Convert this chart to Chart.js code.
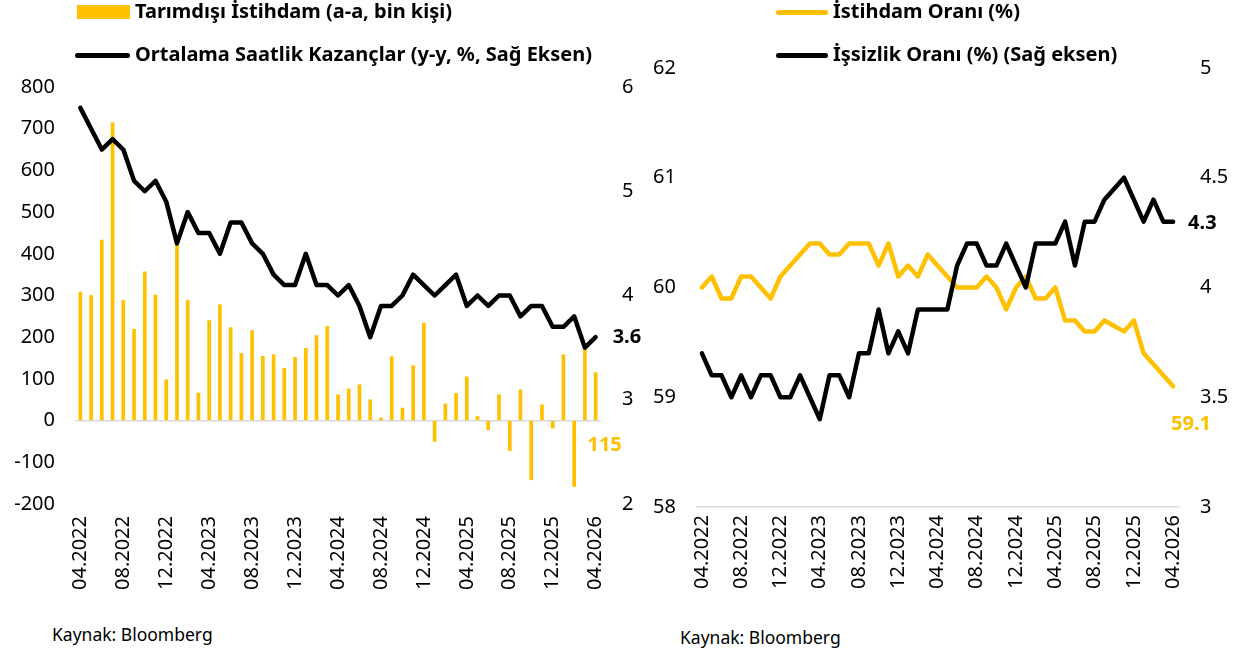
<!DOCTYPE html>
<html>
<head>
<meta charset="utf-8">
<script src="https://cdn.jsdelivr.net/npm/chart.js@4.4.1/dist/chart.umd.min.js"></script>
<style>
  body { margin: 0; background: #fff; width: 1243px; height: 652px; position: relative; overflow: hidden; font-family: "Noto Sans", "DejaVu Sans", sans-serif; }
  canvas { position: absolute; top: 0; }
  #leftChart { left: 0; }
  #rightChart { left: 645px; }
  .leg { position: absolute; font-weight: bold; font-size: 20px; color: #000; white-space: nowrap; line-height: 1; }
  .sw { position: absolute; }
  .src { position: absolute; font-size: 17.5px; color: #000; white-space: nowrap; }
</style>
</head>
<body>
<canvas id="leftChart" width="645" height="620"></canvas>
<canvas id="rightChart" width="598" height="620"></canvas>

<div class="sw" style="left:77px;top:5px;width:53px;height:14px;background:#FFC000"></div>
<div class="leg" style="left:135px;top:1px">Tarımdışı İstihdam (a-a, bin kişi)</div>
<div class="sw" style="left:75px;top:53px;width:55px;height:5px;border-radius:3px;background:#000"></div>
<div class="leg" style="left:135px;top:44px">Ortalama Saatlik Kazançlar (y-y, %, Sağ Eksen)</div>

<div class="sw" style="left:776px;top:10px;width:52px;height:5px;border-radius:3px;background:#FFC000"></div>
<div class="leg" style="left:833px;top:1px">İstihdam Oranı (%)</div>
<div class="sw" style="left:776px;top:53px;width:52px;height:5px;border-radius:3px;background:#000"></div>
<div class="leg" style="left:833px;top:44px">İşsizlik Oranı (%) (Sağ eksen)</div>

<div class="src" style="left:52px;top:622px">Kaynak: Bloomberg</div>
<div class="src" style="left:680px;top:625px">Kaynak: Bloomberg</div>

<script>
const months = [
  "04.2022", "05.2022", "06.2022", "07.2022", "08.2022", "09.2022", "10.2022", "11.2022", "12.2022",
  "01.2023", "02.2023", "03.2023", "04.2023", "05.2023", "06.2023", "07.2023", "08.2023", "09.2023", "10.2023", "11.2023", "12.2023",
  "01.2024", "02.2024", "03.2024", "04.2024", "05.2024", "06.2024", "07.2024", "08.2024", "09.2024", "10.2024", "11.2024", "12.2024",
  "01.2025", "02.2025", "03.2025", "04.2025", "05.2025", "06.2025", "07.2025", "08.2025", "09.2025", "10.2025", "11.2025", "12.2025",
  "01.2026", "02.2026", "03.2026", "04.2026",
];

// Tarımdışı istihdam, aylık değişim (bin kişi)
const payrolls = [
  308, 300, 433, 714, 288, 219, 357, 301, 98, 430,
  288, 66, 240, 278, 223, 161, 216, 154, 158, 125,
  152, 173, 204, 226, 62, 76, 86, 50, 6, 153,
  30, 132, 234, -50, 40, 65, 105, 10, -22, 62,
  -72, 74, -142, 38, -18, 158, -158, 178, 115,
];

// Ortalama saatlik kazançlar, y-y %
const earnings = [
  5.8, 5.6, 5.4, 5.5, 5.4, 5.1, 5.0, 5.1, 4.9, 4.5,
  4.8, 4.6, 4.6, 4.4, 4.7, 4.7, 4.5, 4.4, 4.2, 4.1,
  4.1, 4.4, 4.1, 4.1, 4.0, 4.1, 3.9, 3.6, 3.9, 3.9,
  4.0, 4.2, 4.1, 4.0, 4.1, 4.2, 3.9, 4.0, 3.9, 4.0,
  4.0, 3.8, 3.9, 3.9, 3.7, 3.7, 3.8, 3.5, 3.6,
];

// İstihdam oranı %
const employmentRate = [
  60.0, 60.1, 59.9, 59.9, 60.1, 60.1, 60.0, 59.9, 60.1, 60.2,
  60.3, 60.4, 60.4, 60.3, 60.3, 60.4, 60.4, 60.4, 60.2, 60.4,
  60.1, 60.2, 60.1, 60.3, 60.2, 60.1, 60.0, 60.0, 60.0, 60.1,
  60.0, 59.8, 60.0, 60.1, 59.9, 59.9, 60.0, 59.7, 59.7, 59.6,
  59.6, 59.7, 59.65, 59.6, 59.7, 59.4, 59.3, 59.2, 59.1,
];

// İşsizlik oranı %
const unemploymentRate = [
  3.7, 3.6, 3.6, 3.5, 3.6, 3.5, 3.6, 3.6, 3.5, 3.5,
  3.6, 3.5, 3.4, 3.6, 3.6, 3.5, 3.7, 3.7, 3.9, 3.7,
  3.8, 3.7, 3.9, 3.9, 3.9, 3.9, 4.1, 4.2, 4.2, 4.1,
  4.1, 4.2, 4.1, 4.0, 4.2, 4.2, 4.2, 4.3, 4.1, 4.3,
  4.3, 4.4, 4.45, 4.5, 4.4, 4.3, 4.4, 4.3, 4.3,
];

const YELLOW = "#FFC000";
const AXIS_GRAY = "#D9D9D9";
const FONT = "'Noto Sans', 'DejaVu Sans', sans-serif";

Chart.defaults.font.family = FONT;
Chart.defaults.font.size = 20;
Chart.defaults.color = "#000";
Chart.defaults.animation = false;

const everyFourth = function (val, i) {
  return i % 4 === 0 ? this.getLabelForValue(val) : "";
};
const plainNumber = (v) => String(v);

// last value labels next to the series
const endLabels = {
  id: "endLabels",
  afterDatasetsDraw(chart, args, opts) {
    const ctx = chart.ctx;
    ctx.save();
    ctx.font = "bold 20px " + FONT;
    ctx.textBaseline = "middle";
    opts.items.forEach((it) => {
      const meta = chart.getDatasetMeta(it.dataset);
      const el = meta.data[meta.data.length - 1];
      const data = chart.data.datasets[it.dataset].data;
      const text = it.format(data[data.length - 1]);
      let y = el.y;
      if (it.fromZero) y = chart.scales[it.fromZero].getPixelForValue(0);
      ctx.fillStyle = it.color;
      ctx.textAlign = it.align || "left";
      ctx.fillText(text, el.x + it.dx, y + it.dy);
    });
    ctx.restore();
  },
};

new Chart(document.getElementById("leftChart"), {
  type: "bar",
  data: {
    labels: months,
    datasets: [
      {
        type: "line",
        label: "Ortalama Saatlik Kazançlar (y-y, %, Sağ Eksen)",
        data: earnings,
        yAxisID: "y1",
        borderColor: "#000",
        borderWidth: 4.5,
        pointRadius: 0,
        tension: 0,
        borderJoinStyle: "round",
        borderCapStyle: "round",
        order: 0,
      },
      {
        label: "Tarımdışı İstihdam (a-a, bin kişi)",
        data: payrolls,
        yAxisID: "y",
        backgroundColor: YELLOW,
        barThickness: 3,
        order: 1,
      },
    ],
  },
  plugins: [endLabels],
  options: {
    responsive: false,
    layout: { padding: { top: 87, left: 0, right: 0, bottom: 0 } },
    plugins: {
      legend: { display: false },
      tooltip: { enabled: false },
      endLabels: {
        items: [
          { dataset: 0, format: (v) => v.toFixed(1), color: "#000", dx: 17, dy: 0 },
          { dataset: 1, format: (v) => String(v), color: YELLOW, dx: 9, dy: 25, align: "center", fromZero: "y" },
        ],
      },
    },
    scales: {
      x: {
        offset: true,
        grid: { display: false, drawTicks: false },
        border: { display: false },
        ticks: { autoSkip: false, minRotation: 90, maxRotation: 90, padding: 12, callback: everyFourth },
        afterFit: (s) => { s.height = 116; },
      },
      y: {
        position: "left",
        min: -200,
        max: 800,
        ticks: { stepSize: 100, padding: 20 },
        grid: {
          drawTicks: false,
          color: (c) => (c.tick && c.tick.value === 0 ? AXIS_GRAY : "rgba(0,0,0,0)"),
          lineWidth: 1.5,
        },
        border: { display: false },
        afterFit: (s) => { s.width = 75; },
      },
      y1: {
        position: "right",
        min: 2,
        max: 6,
        ticks: { stepSize: 1, padding: 21, callback: plainNumber },
        grid: { display: false, drawTicks: false },
        border: { display: false },
        afterFit: (s) => { s.width = 44; },
      },
    },
  },
});

new Chart(document.getElementById("rightChart"), {
  type: "line",
  data: {
    labels: months,
    datasets: [
      {
        label: "İşsizlik Oranı (%) (Sağ eksen)",
        data: unemploymentRate,
        yAxisID: "y1",
        borderColor: "#000",
        borderWidth: 4.5,
        pointRadius: 0,
        tension: 0,
        borderJoinStyle: "round",
        borderCapStyle: "round",
      },
      {
        label: "İstihdam Oranı (%)",
        data: employmentRate,
        yAxisID: "y",
        borderColor: YELLOW,
        borderWidth: 4.5,
        pointRadius: 0,
        tension: 0,
        borderJoinStyle: "round",
        borderCapStyle: "round",
      },
    ],
  },
  plugins: [endLabels],
  options: {
    responsive: false,
    layout: { padding: { top: 68, left: 0, right: 0, bottom: 0 } },
    plugins: {
      legend: { display: false },
      tooltip: { enabled: false },
      endLabels: {
        items: [
          { dataset: 0, format: (v) => v.toFixed(1), color: "#000", dx: 15, dy: 2 },
          { dataset: 1, format: (v) => v.toFixed(1), color: YELLOW, dx: 18, dy: 38, align: "center" },
        ],
      },
    },
    scales: {
      x: {
        offset: true,
        grid: { display: false, drawTicks: false },
        border: { display: true, color: AXIS_GRAY, width: 1.5 },
        ticks: { autoSkip: false, minRotation: 90, maxRotation: 90, padding: 8, callback: everyFourth },
        afterFit: (s) => { s.height = 113; },
      },
      y: {
        position: "left",
        min: 58,
        max: 62,
        ticks: { stepSize: 1, padding: 21, callback: plainNumber },
        grid: { display: false, drawTicks: false },
        border: { display: false },
        afterFit: (s) => { s.width = 52; },
      },
      y1: {
        position: "right",
        min: 3,
        max: 5,
        ticks: { stepSize: 0.5, padding: 22, callback: plainNumber },
        grid: { display: false, drawTicks: false },
        border: { display: false },
        afterFit: (s) => { s.width = 65; },
      },
    },
  },
});
</script>
</body>
</html>
